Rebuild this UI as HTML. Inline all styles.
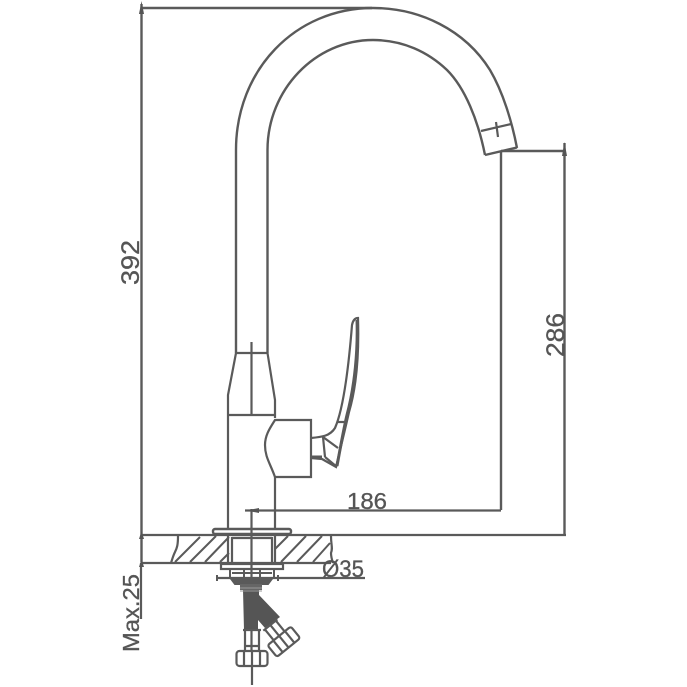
<!DOCTYPE html>
<html>
<head>
<meta charset="utf-8">
<style>
html,body{margin:0;padding:0;background:#fff;width:687px;height:687px;overflow:hidden}
svg{display:block}
text{font-family:"Liberation Sans",sans-serif;fill:#555;stroke:#555;stroke-width:.3}
</style>
</head>
<body>
<svg width="687" height="687" viewBox="0 0 687 687" xmlns="http://www.w3.org/2000/svg">
<g fill="none" stroke="#5a5a5a" stroke-width="2">
  <!-- Dimension lines -->
  <path d="M141.500 4V562M141 8H372" stroke-width="2.400"/>
  <path d="M141 535H566M141 563H331" stroke-width="2.200"/>
  <path d="M141 563V619" stroke-width="2.200"/>
  <path d="M501 151H564M564.500 143V535M501 151V510" stroke-width="2.400"/>
  <path d="M245 510.500H501" stroke-width="2.200"/>
  <path d="M217 578H365" stroke-width="2.200"/>
  <!-- Spout -->
  <path d="M236 353V150C236 70 295 8 373 8C420 8 465 30 490 70C503 92 512 122 517 148" stroke-width="2.400"/>
  <path d="M267.500 353V150C267.500 90 315 40 373 40C403 40 428 52 447 70C465 88 478 120 485 155" stroke-width="2.400"/>
  <path d="M485 155L517 147.500" stroke-width="2.400"/>
  <path d="M481 131L511 124M496 122L498 137" stroke-width="2.200"/>
  <!-- Body -->
  <path d="M236 353H268M251.500 342V415" stroke-width="2.200"/>
  <path d="M236 353L228 395V530M267.500 353L275 400V418" stroke-width="2.200"/>
  <path d="M228 415H275" stroke-width="2.200"/>
  <path d="M275 420H311V477H275C270 463 265 457 265 445C265 435 270 428 275 420Z" stroke-width="2.200"/>
  <path d="M275 477V530" stroke-width="2.200"/>
  <!-- Handle -->
  <path d="M311 438C322 437 330 436 335 428C342 412 348 375 352 325C353 320 355 318 358 318C359 350 357 385 349 412C345 430 340 450 336 467L322 459L311 458" stroke-width="2.200"/>
  <path d="M357 320C358 350 355 385 347 415C343 432 340 450 337 466" stroke-width="3"/>
  <path d="M338 422L347 422M323 437L325 457M323 437L338 448M325 457L337 467" stroke-width="2.200"/>
  <path d="M311 457H322" stroke-width="3"/>
  <!-- Flange and deck -->
  <rect x="213" y="529" width="78" height="5" rx="2" stroke-width="2.400"/>
  <path d="M228 535V563M275 535V563M232 537V563M272 537V563M232 538H272" stroke-width="2.200"/>
  <path d="M251.500 509V580" stroke-width="2.200"/>
  <path d="M178 536C178 545 177 548 175 552C173 556 172 560 171 563M331 536C331 545 333 548 331 553C331 556 332 560 333 563" stroke-width="2.200"/>
  <!-- Hatching -->
  <path d="M175 562L200 537M190 562L216 536M205 562L229 537M220 562L229 553M275 549L288 536M281 562L306 536M297 562L322 536M313 562L330 543" stroke-width="2"/>
  <!-- Fixings -->
  <rect x="221" y="564" width="62" height="5" stroke-width="2.200"/>
  <path d="M230 569V577M244 569V577M260 569V577M274 569V577M232 573H272" stroke-width="2"/>
  <path d="M217 575V581M278 575V581" stroke-width="2"/>
  <!-- Hose shafts -->
  <path d="M232 580H271L268 584H235Z" stroke-width="2" fill="#5a5a5a"/>
  <path d="M240 584H262V590H240Z" fill="#666" stroke="none"/>
  <path d="M243 590H259V595L280 617L265 628L258 620V630H244Z" fill="#555" stroke="none"/>
  <path d="M240 588H262M240 591H262" stroke="#999" stroke-width="1"/>
  <!-- Lower connector -->
  <path d="M245 630V651M259 630V651M251.500 630V651M243 630H261M245 646H259" stroke-width="2.200"/>
  <rect x="236.500" y="651" width="31" height="15" rx="3" stroke-width="2.200"/>
  <path d="M244 651V666M252 651V666M260 651V666" stroke-width="2.200"/>
  <path d="M252 666V685" stroke-width="2.200"/>
  <!-- Angled connector -->
  <g transform="translate(276 632) rotate(-39)">
    <path d="M-9 -9H9M-7 -9V5M7 -9V5M0 -9V5" stroke-width="2.200"/>
    <rect x="-15" y="5" width="30" height="15" rx="2.500" stroke-width="2.200"/>
    <path d="M-7.500 5V20M0 5V20M7.500 5V20" stroke-width="2.200"/>
  </g>
</g>
<!-- Arrowheads -->
<g fill="#555">
  <path d="M141.500 1L144 14H139Z"/>
  <path d="M564.500 142L567 156H562Z"/>
  <path d="M141.500 531L144 539H139Z"/>
  <path d="M141.500 559L144 567H139Z"/>
  <path d="M246 510.500L259 508V513Z"/>
</g>
<!-- Labels -->
<text x="347" y="509" font-size="23" textLength="40" lengthAdjust="spacingAndGlyphs">186</text>
<text x="322" y="577" font-size="24" textLength="42" lengthAdjust="spacingAndGlyphs">Ø35</text>
<text transform="translate(139 285) rotate(-90)" font-size="25" textLength="45" lengthAdjust="spacingAndGlyphs">392</text>
<text transform="translate(564 357) rotate(-90)" font-size="25" textLength="44" lengthAdjust="spacingAndGlyphs">286</text>
<text transform="translate(139 652) rotate(-90)" font-size="23" textLength="78" lengthAdjust="spacingAndGlyphs">Max.25</text>
</svg>
</body>
</html>
